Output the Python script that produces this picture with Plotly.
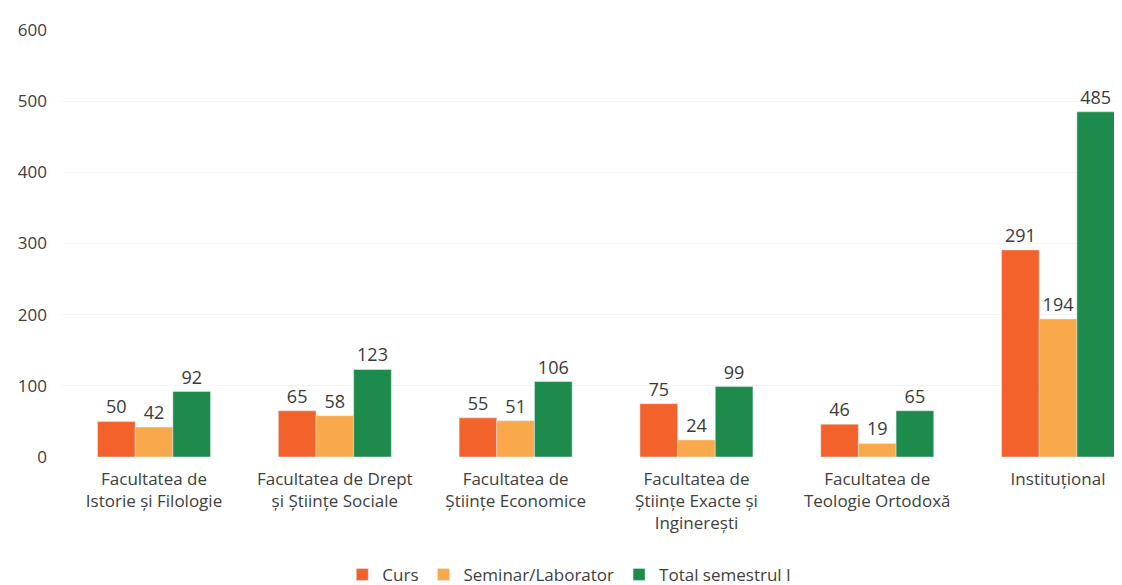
import plotly.graph_objects as go

categories = [
    "Facultatea de<br>Istorie și Filologie",
    "Facultatea de Drept<br>și Științe Sociale",
    "Facultatea de<br>Științe Economice",
    "Facultatea de<br>Științe Exacte și<br>Inginerești",
    "Facultatea de<br>Teologie Ortodoxă",
    "Instituțional",
]
curs = [50, 65, 55, 75, 46, 291]
seminar = [42, 58, 51, 24, 19, 194]
total = [92, 123, 106, 99, 65, 485]

series = [
    ("Curs", curs, "#F4622B"),
    ("Seminar/Laborator", seminar, "#F9A94A"),
    ("Total semestrul I", total, "#1C8B4C"),
]

fig = go.Figure()
for name, vals, col in series:
    fig.add_trace(go.Bar(
        x=list(range(len(categories))), y=vals, name=name, marker_color=col,
        text=[str(v) for v in vals], textposition="outside", cliponaxis=False,
        textfont=dict(size=18, color="#3A3A3A", family="Open Sans"),
    ))

fig.update_layout(
    width=1122, height=585,
    barmode="group", bargap=0.375, bargroupgap=0,
    plot_bgcolor="white", paper_bgcolor="white",
    margin=dict(l=54, r=0, t=22, b=136),
    font=dict(family="Open Sans", color="#404040", size=16),
    xaxis=dict(
        tickmode="array", tickvals=list(range(len(categories))), ticktext=categories,
        range=[-0.509, 5.398], showline=False, ticks="", tickfont=dict(size=17),
        ticklabelstandoff=10,
    ),
    yaxis=dict(
        range=[0, 600], dtick=100, showgrid=True, gridcolor="#F5F5F5",
        zeroline=False, ticks="", tickfont=dict(size=17), ticklabelstandoff=14,
    ),
    legend=dict(orientation="h", x=0.475, xanchor="center", y=-0.276, yanchor="middle",
                font=dict(size=17), traceorder="normal", itemwidth=30),
)

fig.write_html("out.html")
